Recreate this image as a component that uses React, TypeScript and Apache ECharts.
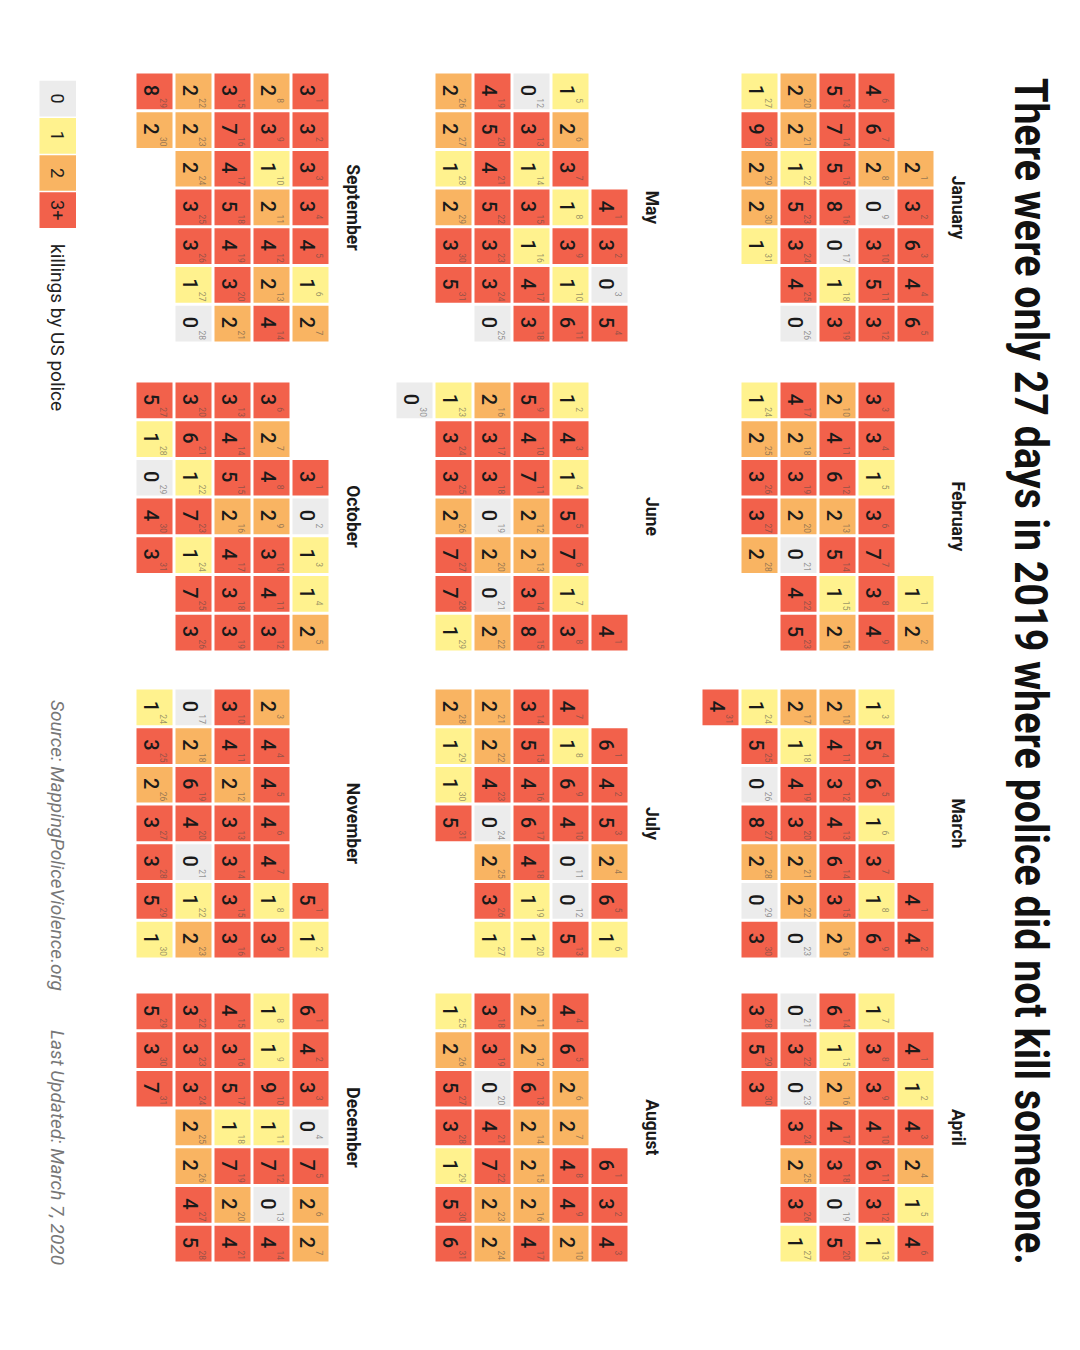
import React, { useEffect, useRef } from "react";
import * as echarts from "echarts";

// ---------------- Data ----------------
const YEAR = 2019;
const monthNames = [
  "January", "February", "March", "April", "May", "June",
  "July", "August", "September", "October", "November", "December",
];

const jan = [2,3,6,4,6,4,6,2,0,3,5,3,5,7,5,8,0,1,3,2,2,1,5,3,4,0,1,9,2,2,1];
const feb = [1,2,3,3,1,3,7,3,4,2,4,6,2,5,1,2,4,2,3,2,0,4,5,1,2,3,3,2];
const mar = [4,4,1,5,6,1,3,1,6,2,4,3,4,6,3,2,2,1,4,3,2,2,0,1,5,0,8,2,0,3,4];
const apr = [4,1,4,2,1,4,1,3,3,4,6,3,1,6,1,2,4,3,0,5,0,3,0,3,2,3,1,3,5,3];
const may = [4,3,0,5,1,2,3,1,3,1,6,0,3,1,3,1,4,3,4,5,4,5,3,3,0,2,2,1,2,3,5];
const jun = [4,1,4,1,5,7,1,3,5,4,7,2,2,3,8,2,3,3,0,2,0,2,1,3,3,2,7,7,1,0];
const jul = [6,4,5,2,6,1,4,1,6,4,0,0,5,3,5,4,6,4,1,1,2,2,4,0,2,3,1,2,1,1,5];
const aug = [6,3,4,4,6,2,2,4,4,2,2,2,6,2,2,2,4,3,3,0,4,7,2,2,1,2,5,3,1,5,6];
const sep = [3,3,3,3,4,1,2,2,3,1,2,4,2,4,3,7,4,5,4,3,2,2,2,2,3,3,1,0,8,2];
const oct = [3,0,1,1,2,3,2,4,2,3,4,3,3,4,5,2,4,3,3,3,6,1,7,1,7,3,5,1,0,4,3];
const nov = [5,1,2,4,4,4,4,1,3,3,4,2,3,3,3,3,0,2,6,4,0,1,2,1,3,2,3,3,5,1];
const dec = [6,4,3,0,7,2,2,1,1,9,1,7,0,4,4,3,5,1,7,2,4,3,3,3,2,2,4,5,5,3,7];

const monthValues = [jan, feb, mar, apr, may, jun, jul, aug, sep, oct, nov, dec];

const legendLabels = ["0", "1", "2", "3+"];
const TITLE = "There were only 27 days in 2019 where police did not kill someone.";
const LEGEND_TEXT = "killings by US police";
const SOURCE_TEXT = "Source: MappingPoliceViolence.org";
const UPDATED_TEXT = "Last Updated: March 7, 2020";

// ---------------- Style / layout ----------------
const COLORS = ["#ececec", "#fff28e", "#f9b462", "#f2614b"];
const colorFor = (v: number) => COLORS[Math.min(v, 3)];
const CELL_W = 38.7;
const CELL_H = 39;
const COL_LEFT = [72, 381, 688, 992];
const ROW_TOP = [145, 451, 750];
const LABEL_OFFSET = 23;
const FONT = "Roboto, 'Noto Sans', sans-serif";

const pad = (n: number) => (n < 10 ? "0" + n : "" + n);

export default function App() {
  const ref = useRef<HTMLDivElement>(null);

  useEffect(() => {
    if (!ref.current) return;
    const chart = echarts.init(ref.current, undefined, { renderer: "svg" });

    const calendars = monthValues.map((_, m) => ({
      orient: "vertical",
      range: `${YEAR}-${pad(m + 1)}`,
      left: COL_LEFT[m % 4],
      top: ROW_TOP[Math.floor(m / 4)],
      cellSize: [CELL_W, CELL_H],
      firstDay: 0,
      splitLine: { show: false },
      itemStyle: { color: "transparent", borderWidth: 0 },
      dayLabel: { show: false },
      monthLabel: { show: false },
      yearLabel: { show: false },
    }));

    const series = monthValues.map((vals, m) => ({
      type: "custom",
      coordinateSystem: "calendar",
      calendarIndex: m,
      silent: true,
      data: vals.map((v, i) => [`${YEAR}-${pad(m + 1)}-${pad(i + 1)}`, v, i + 1]),
      renderItem: (params: any, api: any) => {
        const pt = api.coord([api.value(0)]);
        const cs = params.coordSys || {};
        const w = cs.cellWidth || CELL_W;
        const h = cs.cellHeight || CELL_H;
        const v = api.value(1) as number;
        const day = api.value(2) as number;
        return {
          type: "group",
          children: [
            {
              type: "rect",
              shape: { x: pt[0] - w / 2 + 1.5, y: pt[1] - h / 2 + 1.5, width: w - 3, height: h - 3 },
              style: { fill: colorFor(v) },
            },
            {
              type: "text",
              x: pt[0] - 1,
              y: pt[1] + 3.5,
              style: {
                text: String(v),
                fontSize: 20,
                fontWeight: 500,
                fontFamily: FONT,
                fill: "#1a1a1a",
                align: "center",
                verticalAlign: "middle",
              },
            },
            {
              type: "text",
              x: pt[0] + 7,
              y: pt[1] - 8.5,
              style: {
                text: String(day),
                fontSize: 8.5,
                fontFamily: FONT,
                fill: "rgba(70,70,70,0.55)",
                align: "left",
                verticalAlign: "middle",
              },
            },
          ],
        };
      },
    }));

    const graphics: any[] = [];
    graphics.push({
      type: "text",
      x: 78,
      y: 49,
      scaleX: 0.857,
      style: {
        text: TITLE,
        fontSize: 46,
        fontWeight: "bold",
        fontFamily: FONT,
        fill: "#111",
        align: "left",
        verticalAlign: "middle",
      },
    });
    monthNames.forEach((name, m) => {
      graphics.push({
        type: "text",
        x: COL_LEFT[m % 4] + (CELL_W * 7) / 2,
        y: ROW_TOP[Math.floor(m / 4)] - LABEL_OFFSET,
        style: {
          text: name,
          fontSize: 17.5,
          fontWeight: "bold",
          fontFamily: FONT,
          fill: "#1a1a1a",
          align: "center",
          verticalAlign: "middle",
        },
      });
    });
    // legend
    const LEG_LEFT = 80;
    const LEG_TOP = 1004;
    const LEG_W = 37.2;
    const LEG_H = 38;
    legendLabels.forEach((lab, i) => {
      graphics.push({
        type: "rect",
        shape: { x: LEG_LEFT + i * LEG_W + 0.75, y: LEG_TOP, width: LEG_W - 1.5, height: LEG_H - 1.5 },
        style: { fill: COLORS[i] },
      });
      graphics.push({
        type: "text",
        x: LEG_LEFT + i * LEG_W + LEG_W / 2,
        y: LEG_TOP + LEG_H / 2,
        style: {
          text: lab,
          fontSize: 18,
          fontFamily: FONT,
          fill: "#1e1e1e",
          align: "center",
          verticalAlign: "middle",
        },
      });
    });
    graphics.push({
      type: "text",
      x: 244,
      y: LEG_TOP + LEG_H / 2,
      style: {
        text: LEGEND_TEXT,
        fontSize: 19,
        fontFamily: FONT,
        fill: "#222",
        align: "left",
        verticalAlign: "middle",
      },
    });
    graphics.push({
      type: "text",
      x: 700,
      y: LEG_TOP + LEG_H / 2,
      style: {
        text: SOURCE_TEXT,
        fontSize: 19,
        fontStyle: "italic",
        fontFamily: FONT,
        fill: "#777",
        align: "left",
        verticalAlign: "middle",
      },
    });
    graphics.push({
      type: "text",
      x: 1030,
      y: LEG_TOP + LEG_H / 2,
      style: {
        text: UPDATED_TEXT,
        fontSize: 19,
        fontStyle: "italic",
        fontFamily: FONT,
        fill: "#777",
        align: "left",
        verticalAlign: "middle",
      },
    });

    chart.setOption({
      animation: false,
      backgroundColor: "#ffffff",
      calendar: calendars,
      series,
      graphic: graphics,
    } as any);

    return () => chart.dispose();
  }, []);

  return (
    <div
      style={{
        position: "absolute",
        left: 0,
        top: 0,
        width: 1080,
        height: 1350,
        overflow: "hidden",
        background: "#ffffff",
      }}
    >
      <div
        ref={ref}
        style={{
          position: "absolute",
          left: 0,
          top: 0,
          width: 1350,
          height: 1080,
          transformOrigin: "0 0",
          transform: "translate(1080px, 0px) rotate(90deg)",
        }}
      />
    </div>
  );
}
